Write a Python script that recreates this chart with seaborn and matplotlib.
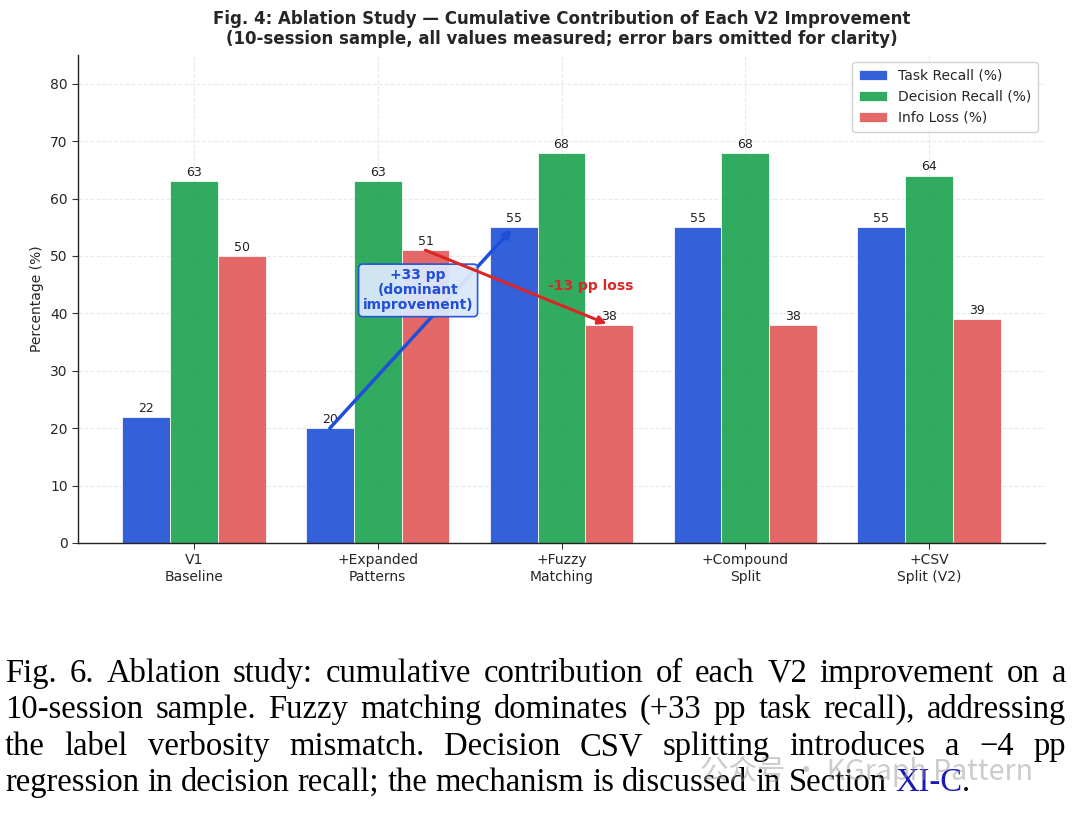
import matplotlib
matplotlib.use("Agg")
import matplotlib.pyplot as plt
import seaborn as sns
import pandas as pd
import numpy as np

# ---------------- data ----------------
stages = ["V1\nBaseline", "+Expanded\nPatterns", "+Fuzzy\nMatching", "+Compound\nSplit", "+CSV\nSplit (V2)"]
metrics = ["Task Recall (%)", "Decision Recall (%)", "Info Loss (%)"]
task_recall = [22, 20, 55, 55, 55]
decision_recall = [63, 63, 68, 68, 64]
info_loss = [50, 51, 38, 38, 39]
yticks = [0, 10, 20, 30, 40, 50, 60, 70, 80]

title_text = ("Fig. 4: Ablation Study \u2014 Cumulative Contribution of Each V2 Improvement\n"
              "(10-session sample, all values measured; error bars omitted for clarity)")
gain_text = "+33 pp\n(dominant\nimprovement)"
loss_text = "-13 pp loss"
caption_lines = [
    "Fig. 6.  Ablation study: cumulative contribution of each V2 improvement on a",
    "10-session sample. Fuzzy matching dominates (+33 pp task recall), addressing",
    "the label verbosity mismatch. Decision CSV splitting introduces a \u22124 pp",
    "regression in decision recall; the mechanism is discussed in Section",
]
caption_ref = "XI-C"
watermark = "\u516c\u4f17\u53f7 \u00b7 KGraph Pattern"

colors = ["#1e4fd5", "#19a24d", "#e35757"]
blue_ann = "#1f4fd8"
red_ann = "#dc2626"

df = pd.DataFrame({
    "stage": stages * 3,
    "metric": [metrics[0]] * 5 + [metrics[1]] * 5 + [metrics[2]] * 5,
    "value": task_recall + decision_recall + info_loss,
})

# ---------------- figure ----------------
sns.set_style("white")
plt.rcParams["font.family"] = ["DejaVu Sans"]
fig = plt.figure(figsize=(10.8, 8.14), dpi=100)
ax = fig.add_axes([78 / 1080, 1 - 543 / 814, (1045 - 78) / 1080, (543 - 55) / 814])

total_w = 0.78
sns.barplot(data=df, x="stage", y="value", hue="metric", order=stages, hue_order=metrics,
            palette=colors, saturation=1, width=total_w, gap=0, alpha=0.9, edgecolor="#ffffff",
            linewidth=0.6, ax=ax, errorbar=None)

for cont in ax.containers:
    ax.bar_label(cont, fmt="%.0f", fontsize=9, padding=1.5, color="#222222")

ax.set_xlim(-0.63, len(stages) - 1 + 0.63)
ax.set_ylim(0, max(decision_recall) * 1.25)
ax.set_yticks(yticks)
ax.set_xlabel("")
ax.set_ylabel("Percentage (%)", fontsize=10)
ax.tick_params(axis="both", labelsize=10, length=4, width=0.8, color="#333333", left=True, bottom=True)
ax.grid(True, linestyle="--", alpha=0.4, color="#cccccc", linewidth=0.8)
ax.set_axisbelow(True)
sns.despine(ax=ax)
for s in ["left", "bottom"]:
    ax.spines[s].set_color("#222222")
    ax.spines[s].set_linewidth(1.0)

ax.set_title(title_text, fontsize=12, fontweight="bold", pad=8, linespacing=1.1)

leg = ax.legend(loc="upper right", fontsize=10, frameon=True, framealpha=0.9,
                edgecolor="#cccccc", borderpad=0.5, handlelength=2.0)

# ---------------- annotations ----------------
bw = total_w / 3
x_task_1 = 1 - bw
x_task_2 = 2 - bw
x_info_1 = 1 + bw
x_info_2 = 2 + bw
ax.annotate("", xy=(x_task_2, task_recall[2]), xytext=(x_task_1, task_recall[1]),
            arrowprops=dict(arrowstyle="-|>", color=blue_ann, lw=2.5, shrinkA=0, shrinkB=2,
                            mutation_scale=12))
ax.text(1.22, 44.0, gain_text, ha="center", va="center", fontsize=10, fontweight="bold",
        color=blue_ann, linespacing=1.1,
        bbox=dict(boxstyle="round,pad=0.3", facecolor="#dbe8fb", edgecolor=blue_ann, lw=1.2, alpha=0.95))
ax.annotate("", xy=(x_info_2, info_loss[2]), xytext=(x_info_1, info_loss[1]),
            arrowprops=dict(arrowstyle="-|>", color=red_ann, lw=2.2, shrinkA=0, shrinkB=2,
                            mutation_scale=12))
ax.text(2.16, 44.8, loss_text, ha="center", va="center", fontsize=10, fontweight="bold", color=red_ann)

# ---------------- caption (justified) ----------------
fig.canvas.draw()
renderer = fig.canvas.get_renderer()
W, H = 1080, 814
cap_font = ["Liberation Serif", "DejaVu Serif"]
cap_size = 23.5
left_px, right_px = 5, 1066
baselines = [682, 718, 755, 791]


def space_width(size):
    sp = fig.text(0, 0, "a a", fontsize=size, family=cap_font)
    sp2 = fig.text(0, 0, "aa", fontsize=size, family=cap_font)
    w = sp.get_window_extent(renderer).width - sp2.get_window_extent(renderer).width
    sp.remove(); sp2.remove()
    return w


def place_words(words, y_px, justify, size):
    objs, widths = [], []
    for w, c in words:
        t = fig.text(0, 1 - y_px / H, w, fontsize=size, family=cap_font, color=c,
                     va="baseline", ha="left")
        objs.append(t)
        widths.append(t.get_window_extent(renderer).width)
    sw = space_width(size)
    n = len(words)
    if justify and n > 1:
        gap = (right_px - left_px - sum(widths)) / (n - 1)
        if gap < 0.55 * sw:
            for t in objs:
                t.remove()
            return place_words(words, y_px, justify, size - 0.5)
    else:
        gap = sw
    x = left_px
    for t, wd in zip(objs, widths):
        t.set_x(x / W)
        x += wd + gap
    return x - gap, size


for i, line in enumerate(caption_lines):
    words = [(w, "black") for w in line.split()]
    if i < 3:
        place_words(words, baselines[i], True, cap_size)
    else:
        end, sz = place_words(words, baselines[i], False, cap_size)
        sw = space_width(sz)
        t = fig.text((end + sw) / W, 1 - baselines[i] / H, caption_ref, fontsize=sz,
                     family=cap_font, color="#1a1ab4", va="baseline", ha="left")
        bb = t.get_window_extent(renderer)
        fig.text(bb.x1 / W, 1 - baselines[i] / H, ".", fontsize=sz, family=cap_font,
                 color="black", va="baseline", ha="left")

# watermark
fig.text(700 / W, 1 - 780 / H, watermark, fontsize=20.5, family=["Noto Sans CJK SC", "DejaVu Sans"],
         color="#9a9a9a", alpha=0.5, va="baseline", ha="left")

fig.savefig("out.png", dpi=100, facecolor="white")
